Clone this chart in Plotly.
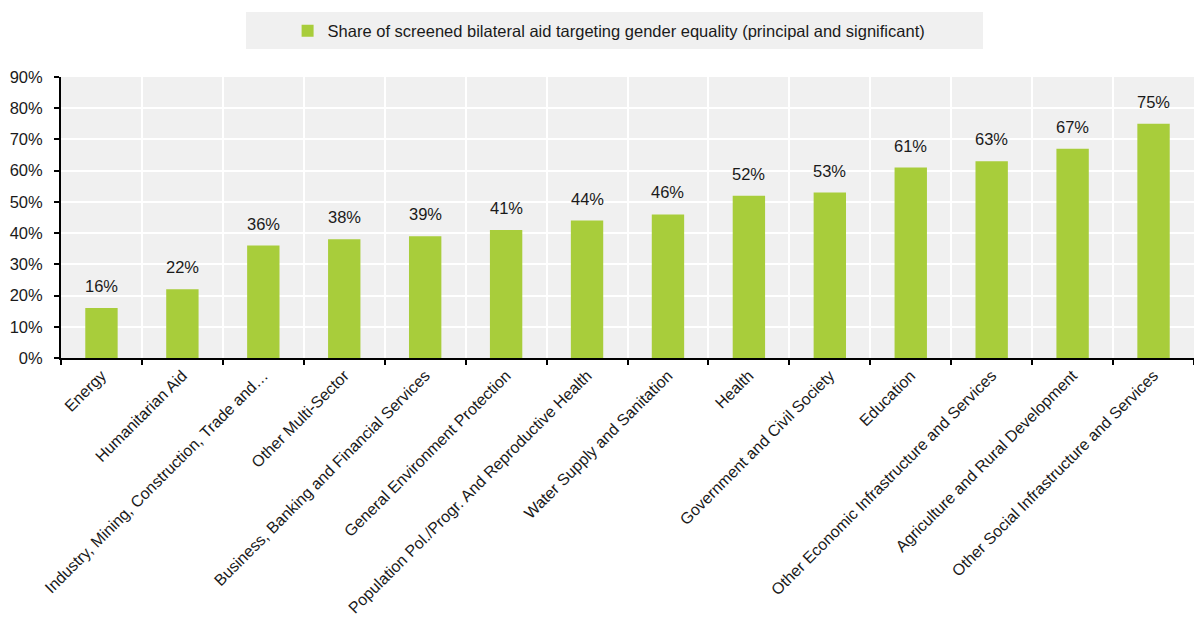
import plotly.graph_objects as go

sectors = [
    "Energy",
    "Humanitarian Aid",
    "Industry, Mining, Construction, Trade and…",
    "Other Multi-Sector",
    "Business, Banking and Financial Services",
    "General Environment Protection",
    "Population Pol./Progr. And Reproductive Health",
    "Water Supply and Sanitation",
    "Health",
    "Government and Civil Society",
    "Education",
    "Other Economic Infrastructure and Services",
    "Agriculture and Rural Development",
    "Other Social Infrastructure and Services",
]
share = [0.16, 0.22, 0.36, 0.38, 0.39, 0.41, 0.44, 0.46, 0.52, 0.53, 0.61, 0.63, 0.67, 0.75]
series_name = "Share of screened bilateral aid targeting gender equality (principal and significant)"
y_ticks = [0, 0.1, 0.2, 0.3, 0.4, 0.5, 0.6, 0.7, 0.8, 0.9]

FONT = "Liberation Sans, Arial, sans-serif"
GREEN = "#A8CD3B"
PANEL = "#F0F0F0"
INK = "#1a1a1a"

fig = go.Figure(
    go.Bar(
        x=sectors,
        y=share,
        name=series_name,
        marker=dict(color=GREEN, line=dict(width=0)),
        width=0.4,
        showlegend=True,
    )
)

# value labels above each bar
for name, v in zip(sectors, share):
    fig.add_annotation(
        x=name,
        y=v,
        text=f"{v:.0%}",
        showarrow=False,
        yanchor="bottom",
        yshift=11,
        font=dict(family=FONT, size=16.5, color=INK),
    )

# grey panel behind the legend
fig.add_shape(
    type="rect",
    xref="paper",
    yref="paper",
    x0=0.1633,
    x1=0.8138,
    y0=1.0996,
    y1=1.2313,
    fillcolor=PANEL,
    line=dict(width=0),
    layer="below",
)

fig.update_layout(
    width=1194,
    height=617,
    margin=dict(l=61, r=0, t=77, b=259, autoexpand=False),
    paper_bgcolor="white",
    plot_bgcolor=PANEL,
    font=dict(family=FONT, size=16, color=INK),
    showlegend=True,
    legend=dict(
        orientation="h",
        x=0.2,
        xanchor="left",
        y=1 - 31 / 617,
        yref="container",
        yanchor="middle",
        bgcolor="rgba(0,0,0,0)",
        font=dict(family=FONT, size=16.5, color=INK),
    ),
)

fig.update_xaxes(
    type="category",
    automargin=False,
    tickson="boundaries",
    showgrid=True,
    gridcolor="white",
    gridwidth=2,
    showline=True,
    linecolor="black",
    linewidth=2,
    ticks="outside",
    ticklen=5,
    tickcolor="black",
    tickwidth=2,
    tickangle=-45,
    tickfont=dict(family=FONT, size=16, color=INK),
)

fig.update_yaxes(
    automargin=False,
    range=[0, 0.9],
    tickvals=y_ticks,
    tickformat=".0%",
    showgrid=True,
    gridcolor="white",
    gridwidth=2,
    showline=True,
    linecolor="black",
    linewidth=2,
    ticks="outside",
    ticklen=5,
    tickcolor="black",
    tickwidth=2,
    ticklabelstandoff=8,
    zeroline=False,
    tickfont=dict(family=FONT, size=16.5, color=INK),
)

fig.write_html("out.html")
